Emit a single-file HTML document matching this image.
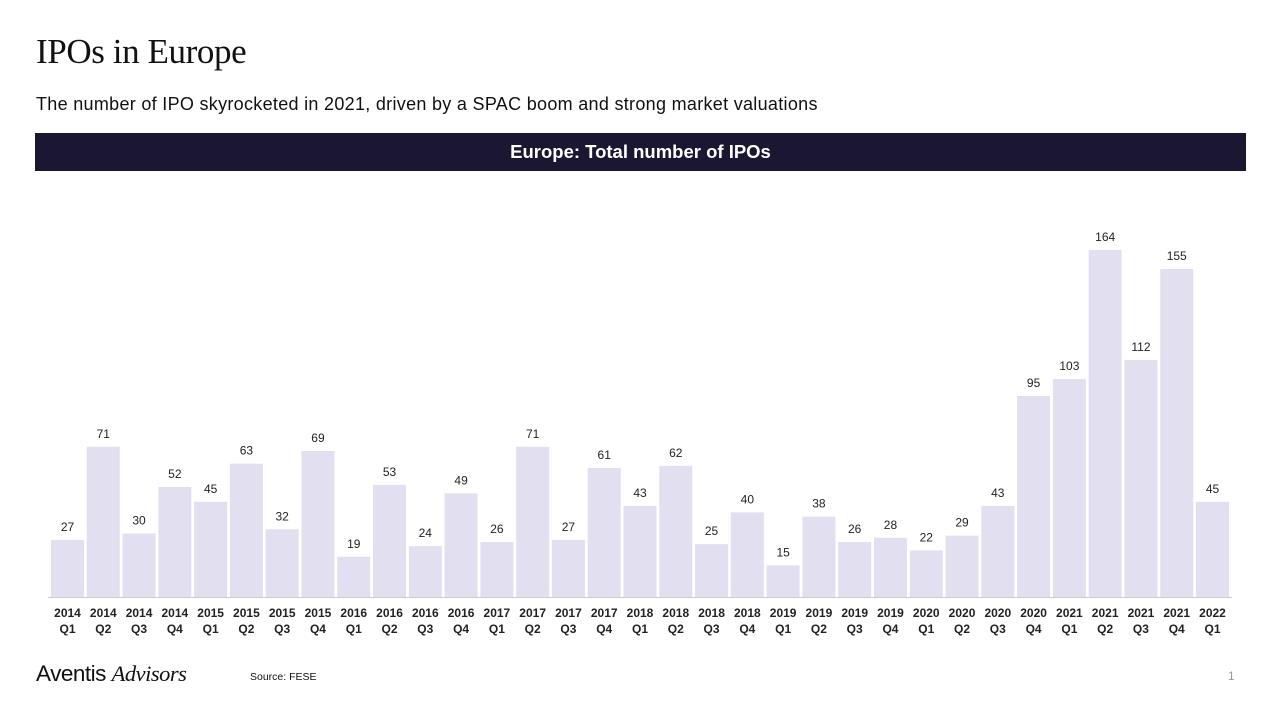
<!DOCTYPE html>
<html><head><meta charset="utf-8"><style>
body{margin:0;width:1280px;height:720px;background:#fff;position:relative;overflow:hidden;font-family:"Liberation Sans",sans-serif;color:#111}
.a{position:absolute;white-space:nowrap}
</style></head><body>
<div class="a" style="left:36px;top:32px;font-family:'Liberation Serif',serif;font-size:35px;letter-spacing:-0.4px">IPOs in Europe</div>
<div class="a" style="left:36px;top:94px;font-size:18px;letter-spacing:0.3px">The number of IPO skyrocketed in 2021, driven by a SPAC boom and strong market valuations</div>
<div class="a" style="left:35px;top:133px;width:1211px;height:38px;background:#1b1733;color:#fff;font-weight:bold;font-size:18.5px;text-align:center;line-height:38px">Europe: Total number of IPOs</div>
<svg class="a" style="left:0;top:0" width="1280" height="720" id="c"></svg>
<div class="a" style="left:36px;top:661px;font-size:22.5px;letter-spacing:-0.5px">Aventis <i style="font-family:'Liberation Serif',serif">Advisors</i></div>
<div class="a" style="left:250px;top:671px;font-size:10.5px">Source: FESE</div>
<div class="a" style="left:1228px;top:669px;font-size:12px;color:#999">1</div>
<script>
const years=["2014","2014","2014","2014","2015","2015","2015","2015","2016","2016","2016","2016","2017","2017","2017","2017","2018","2018","2018","2018","2019","2019","2019","2019","2020","2020","2020","2020","2021","2021","2021","2021","2022"];
const quarters=["Q1","Q2","Q3","Q4","Q1","Q2","Q3","Q4","Q1","Q2","Q3","Q4","Q1","Q2","Q3","Q4","Q1","Q2","Q3","Q4","Q1","Q2","Q3","Q4","Q1","Q2","Q3","Q4","Q1","Q2","Q3","Q4","Q1"];
const values=[27,71,30,52,45,63,32,69,19,53,24,49,26,71,27,61,43,62,25,40,15,38,26,28,22,29,43,95,103,164,112,155,45];
const svg=document.getElementById('c');const NS='http://www.w3.org/2000/svg';
const base=597,scale=347/164,x0=51,step=(1196-51)/32,bw=33;
const y=v=>base-v*scale;const x=i=>x0+i*step;
function mk(t,a){const e=document.createElementNS(NS,t);for(const k in a)e.setAttribute(k,a[k]);svg.appendChild(e);return e;}
const ax=mk('line',{x1:48,x2:1232,y1:base+0.5,y2:base+0.5,stroke:'#ccc','stroke-width':1});


values.forEach((v,i)=>{
 const r=mk('rect',{x:x(i),y:y(v),width:bw,height:v*scale,fill:'#e2e0f0'});
 
 
 const t=mk('text',{x:x(i)+bw/2,y:y(v)-9,'text-anchor':'middle','font-size':12,fill:'#222'});t.textContent=v;
 
 
 const l1=mk('text',{x:x(i)+bw/2,y:617,'text-anchor':'middle','font-size':12,'font-weight':'bold',fill:'#222'});l1.textContent=years[i];
 
 
 const l2=mk('text',{x:x(i)+bw/2,y:633,'text-anchor':'middle','font-size':12,'font-weight':'bold',fill:'#222'});l2.textContent=quarters[i];
 
 
});
</script>
</body></html>
